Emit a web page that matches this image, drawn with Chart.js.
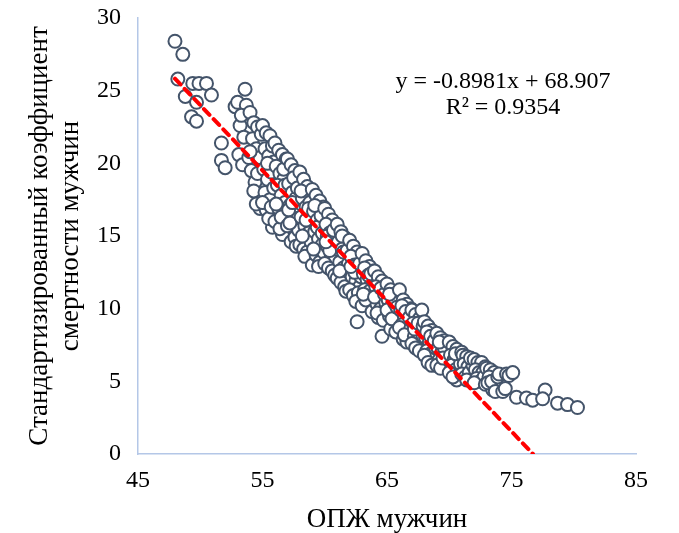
<!DOCTYPE html>
<html><head><meta charset="utf-8">
<script src="https://cdn.jsdelivr.net/npm/chart.js@4.4.1/dist/chart.umd.min.js"></script>
<style>html,body{margin:0;padding:0;background:#fff}#wrap{width:679px;height:533px}</style>
</head><body><div id="wrap"><canvas id="c" width="679" height="533"></canvas></div>
<script>
const xTicks = [45, 55, 65, 75, 85];
const yTicks = [0, 5, 10, 15, 20, 25, 30];
const xTitle = 'ОПЖ мужчин';
const yTitle = ['Стандартизированный коэффициент', 'смертности мужчин'];
const trendSlope = -0.8981;
const trendIntercept = 68.907;
const trendStartX = 47.97;
const equationText = 'y = -0.8981x + 68.907';
const r2Text = 'R² = 0.9354';
// [ОПЖ мужчин, стандартизированный коэффициент смертности]
const menPoints = [
[47.97,28.4],[48.6,27.5],[48.2,25.8],[49.4,25.5],[49.9,25.5],[50.5,25.5],[48.8,24.6],[49.7,24.2],[50.9,24.7],[49.3,23.2],[49.7,22.9],[51.7,21.4],[51.7,20.2],[52.0,19.7],
[52.8,23.9],[53.0,24.2],[53.6,25.1],[53.7,24.0],[53.2,22.6],[53.5,21.8],[53.1,20.6],[53.4,19.9],[53.9,20.4],[53.3,23.3],
[54.0,23.5],[54.3,22.8],[54.6,22.5],[54.2,21.7],[54.5,21.0],[54.8,20.4],[54.1,19.5],[54.4,18.7],[54.7,17.8],[54.3,18.1],[54.9,22.0],[54.6,19.3],[54.0,20.8],[54.8,16.9],[54.5,17.2],
[55.0,22.6],[55.3,22.1],[55.6,21.9],[55.2,21.0],[55.5,20.5],[55.8,21.2],[55.1,19.6],[55.4,18.9],[55.7,19.4],[55.2,18.0],[55.6,17.5],[55.9,18.3],[55.8,15.6],[55.3,16.8],[55.0,17.3],[55.5,16.2],[55.9,20.1],[55.4,20.0],[55.7,17.0],
[56.0,21.4],[56.3,20.9],[56.6,20.6],[56.9,20.3],[56.1,19.8],[56.4,19.3],[56.7,18.9],[56.2,18.5],[56.5,17.8],[56.8,17.3],[56.3,16.9],[56.6,15.1],[56.0,16.0],[56.9,16.4],[56.4,15.5],[56.7,19.6],[56.1,17.2],[56.8,18.5],[56.5,16.3],
[57.0,20.3],[57.3,19.9],[57.6,19.5],[57.9,19.1],[57.1,18.6],[57.4,18.0],[57.7,17.6],[57.2,17.1],[57.5,16.5],[57.8,16.2],[57.0,15.7],[57.3,14.6],[57.6,14.9],[57.9,15.4],[57.2,15.9],[57.5,19.0],[57.8,18.3],[57.1,16.8],[57.4,17.3],[57.7,14.3],
[58.0,19.4],[58.3,18.9],[58.6,18.4],[58.9,17.9],[58.2,17.6],[58.5,17.0],[58.8,16.6],[58.1,16.3],[58.4,15.7],[58.7,15.2],[58.0,14.4],[58.3,14.1],[58.6,13.9],[58.9,14.6],[58.2,15.0],[58.5,16.1],[58.8,17.3],[58.1,18.1],[58.4,13.6],[58.7,16.9],
[59.0,18.2],[59.3,17.8],[59.6,17.4],[59.9,17.0],[59.1,16.7],[59.4,16.1],[59.7,15.8],[59.2,15.3],[59.5,14.8],[59.8,14.4],[59.0,13.0],[59.3,13.7],[59.6,13.2],[59.9,13.9],[59.1,14.1],[59.4,15.6],[59.7,16.4],[59.2,17.1],[59.8,15.2],[59.5,12.9],
[60.0,16.9],[60.3,16.5],[60.6,16.1],[60.9,15.6],[60.1,15.8],[60.4,15.2],[60.7,14.7],[60.2,14.3],[60.5,13.8],[60.8,13.4],[60.0,13.1],[60.3,12.8],[60.6,12.6],[60.9,14.1],[60.2,15.0],[60.7,15.4],[60.4,14.0],[60.8,12.3],[60.1,14.6],
[61.0,15.8],[61.3,15.3],[61.6,14.9],[61.9,14.5],[61.1,14.6],[61.4,14.1],[61.7,13.6],[61.2,13.2],[61.5,12.8],[61.8,12.3],[61.0,12.1],[61.3,11.8],[61.6,11.5],[61.9,13.1],[61.2,12.6],[61.5,13.9],[61.8,14.0],[61.4,15.0],[61.7,11.2],
[62.0,14.7],[62.3,14.3],[62.6,13.9],[62.9,13.5],[62.1,13.6],[62.4,13.0],[62.7,12.7],[62.2,12.2],[62.5,11.9],[62.8,11.5],[62.0,11.3],[62.3,10.9],[62.6,9.1],[62.9,12.2],[62.4,12.5],[62.7,11.1],[62.1,12.9],[62.5,10.5],[62.8,13.1],
[63.0,13.8],[63.3,13.3],[63.6,12.9],[63.9,12.6],[63.1,12.4],[63.4,12.0],[63.7,11.6],[63.2,11.3],[63.5,10.8],[63.8,10.5],[63.0,10.2],[63.3,10.6],[63.6,11.2],[63.9,11.9],[63.2,12.8],[63.5,12.3],[63.8,9.8],[63.1,11.0],[63.7,12.4],
[64.0,12.6],[64.3,12.2],[64.6,11.9],[64.9,11.6],[64.1,11.5],[64.4,11.1],[64.7,10.7],[64.2,10.3],[64.5,10.0],[64.8,9.6],[64.3,9.4],[64.6,8.1],[64.0,10.8],[64.9,10.4],[64.5,11.4],[64.8,11.0],[64.2,9.7],[64.7,9.2],
[65.0,11.7],[65.3,11.3],[65.6,11.0],[65.9,10.7],[65.1,10.6],[65.4,10.2],[65.7,9.8],[65.2,9.5],[65.5,9.1],[65.8,8.8],[65.0,9.9],[65.3,8.6],[65.6,10.4],[65.9,9.6],[65.2,11.0],[65.7,8.4],[65.4,9.3],[65.8,10.1],
[66.0,11.3],[66.3,10.6],[66.6,10.3],[66.9,10.0],[66.1,9.9],[66.4,9.5],[66.7,9.2],[66.2,8.9],[66.5,8.5],[66.8,8.2],[66.0,8.7],[66.3,7.9],[66.6,7.7],[66.9,8.6],[66.2,10.2],[66.5,9.8],[66.8,9.4],[66.4,8.2],
[67.0,9.9],[67.3,9.6],[67.6,9.3],[67.8,9.9],[67.1,9.0],[67.4,8.7],[67.7,8.4],[67.2,8.1],[67.5,7.8],[67.8,7.5],[67.0,7.6],[67.3,7.3],[67.6,7.1],[67.9,8.1],[67.2,8.6],[67.5,9.0],[67.9,8.8],
[68.0,9.1],[68.3,8.8],[68.6,8.5],[68.9,8.2],[68.1,8.0],[68.4,7.7],[68.7,7.4],[68.2,7.1],[68.5,6.9],[68.8,6.6],[68.0,6.8],[68.3,6.3],[68.6,6.1],[68.9,7.3],[68.2,8.4],[68.5,8.1],[68.8,7.8],
[69.0,8.3],[69.3,8.0],[69.6,7.8],[69.9,7.5],[69.1,7.3],[69.4,7.0],[69.7,6.8],[69.2,6.5],[69.5,6.2],[69.8,6.0],[69.0,6.1],[69.3,5.9],[69.6,7.3],[69.9,6.5],[69.2,7.7],[69.5,6.6],
[70.0,7.7],[70.3,7.4],[70.6,7.2],[70.9,6.9],[70.1,6.8],[70.4,6.5],[70.7,6.3],[70.2,6.1],[70.5,5.8],[70.8,5.5],[70.0,5.6],[70.6,5.1],[70.3,5.3],[70.9,6.2],[70.5,6.9],
[71.0,7.0],[71.1,6.8],[71.4,6.7],[71.7,6.4],[71.2,6.2],[71.5,6.0],[71.8,5.8],[71.0,5.5],[71.3,5.3],[71.6,5.6],[71.9,6.1],[71.4,5.1],[71.7,6.6],
[72.0,6.5],[72.3,6.3],[72.6,6.3],[72.9,6.0],[72.1,5.8],[72.4,5.6],[72.7,5.6],[72.2,5.2],[72.5,5.0],[72.8,5.3],[72.0,4.9],[72.9,4.8],
[73.0,5.9],[73.3,5.8],[73.6,5.6],[73.2,5.3],[73.5,4.4],[73.8,4.6],[73.1,4.9],[73.4,5.0],[73.9,5.3],[73.7,4.3],
[74.0,5.5],[74.3,4.3],[74.6,5.5],[74.8,5.4],[75.1,5.6],[74.5,4.5],[75.4,3.9],[76.2,3.85],[76.7,3.7],[77.7,4.4],[77.5,3.8],[78.7,3.5],[79.5,3.4],[80.3,3.2]
];

const scatterData = menPoints.map(p => ({x: p[0], y: p[1]}));
const trendEndX = -trendIntercept / trendSlope;
const trendData = [
  {x: trendStartX, y: trendSlope * trendStartX + trendIntercept},
  {x: trendEndX, y: 0}
];

const FONT = '"Liberation Serif", "Times New Roman", serif';

const eqPlugin = {
  id: 'eq',
  afterDatasetsDraw(chart) {
    const ctx = chart.ctx;
    ctx.save();
    ctx.fillStyle = '#000';
    ctx.font = '24px ' + FONT;
    ctx.textAlign = 'center';
    ctx.textBaseline = 'middle';
    ctx.fillText(equationText, 503, 82);
    ctx.fillText(r2Text, 503, 108);
    ctx.restore();
  }
};

new Chart(document.getElementById('c'), {
  type: 'scatter',
  data: {
    datasets: [
      {
        type: 'line',
        data: trendData,
        borderColor: '#ff0000',
        borderWidth: 4,
        borderDash: [8, 6],
        borderCapStyle: 'round',
        pointRadius: 0,
        fill: false
      },
      {
        data: scatterData,
        backgroundColor: '#ffffff',
        borderColor: '#44546a',
        borderWidth: 2,
        pointRadius: 6.5,
        pointHoverRadius: 6.5
      }
    ]
  },
  options: {
    responsive: false,
    animation: false,
    devicePixelRatio: 1,
    layout: {padding: {top: 18, right: 43, left: 0, bottom: 0}},
    plugins: {legend: {display: false}, tooltip: {enabled: false}},
    scales: {
      x: {
        type: 'linear', min: 45, max: 85,
        afterBuildTicks: s => { s.ticks = xTicks.map(v => ({value: v})); },
        afterFit: s => { s.height = 79; s.paddingLeft = 0; s.paddingRight = 0; },
        grid: {display: false, drawTicks: false},
        border: {display: true, color: '#b4c7e7', width: 1.5},
        ticks: {color: '#000', font: {family: FONT, size: 24}, padding: 12},
        title: {display: true, text: xTitle, color: '#000', font: {family: FONT, size: 27, lineHeight: 1.0}, padding: {top: 0, bottom: 0}}
      },
      y: {
        type: 'linear', min: 0, max: 30,
        afterBuildTicks: s => { s.ticks = yTicks.map(v => ({value: v})); },
        afterFit: s => { s.width = 138; s.paddingTop = 0; s.paddingBottom = 0; },
        grid: {display: false, drawTicks: false},
        border: {display: true, color: '#b4c7e7', width: 1.5},
        ticks: {color: '#000', font: {family: FONT, size: 24}, padding: 17},
        title: {display: true, text: yTitle, color: '#000', font: {family: FONT, size: 27, lineHeight: 1.15}, padding: {top: 24.5, bottom: 0}}
      }
    }
  },
  plugins: [eqPlugin]
});
</script>
</body></html>
